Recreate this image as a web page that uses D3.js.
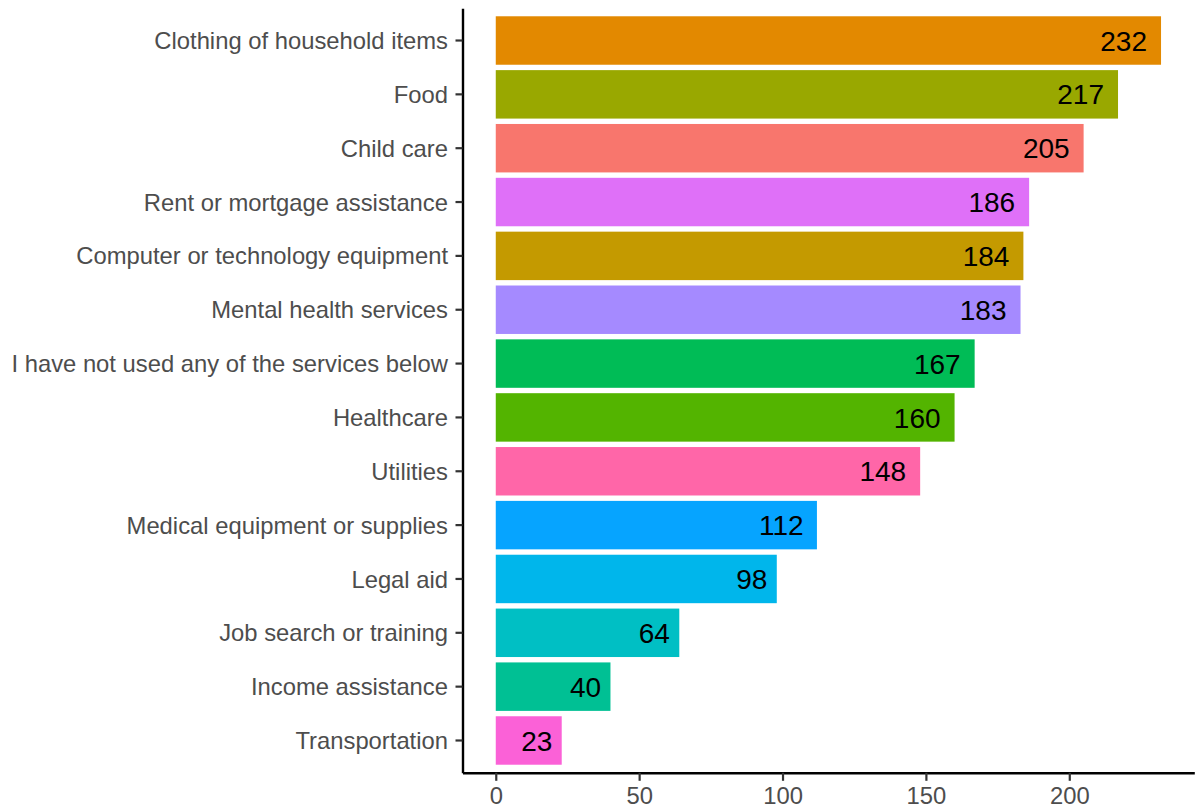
<!DOCTYPE html>
<html>
<head>
<meta charset="utf-8">
<script src="https://cdn.jsdelivr.net/npm/d3@7"></script>
<style>
  body { margin: 0; background: #fff; }
  svg { display: block; font-family: "Liberation Sans", Arial, sans-serif; }
</style>
</head>
<body>
<div id="chart"></div>
<script>
var services = ["Clothing of household items", "Food", "Child care", "Rent or mortgage assistance",
    "Computer or technology equipment", "Mental health services", "I have not used any of the services below",
    "Healthcare", "Utilities", "Medical equipment or supplies", "Legal aid", "Job search or training",
    "Income assistance", "Transportation"];
var counts = [232, 217, 205, 186, 184, 183, 167, 160, 148, 112, 98, 64, 40, 23];
var barColors = ["#E38900", "#99A800", "#F8766D", "#DF70F8", "#C49A00", "#A58AFF", "#00BC56",
    "#53B400", "#FF66A8", "#06A4FF", "#00B6EB", "#00BFC4", "#00C094", "#FB61D7"];
var xTicks = [0, 50, 100, 150, 200];

var width = 1198, height = 808;
var panel = { left: 462.5, right: 1194.3, top: 8.2, bottom: 772.8 };

var svg = d3.select("#chart")
    .append("svg")
    .attr("width", width)
    .attr("height", height);

var maxVal = d3.max(counts);
var pad = maxVal * 0.05;
var x = d3.scaleLinear()
    .domain([-pad, maxVal + pad])
    .range([panel.left, panel.right]);

var y = d3.scaleBand()
    .domain(services)
    .range([panel.top, panel.bottom])
    .paddingInner(0.1)
    .paddingOuter(0.15);

var rows = services.map(function(s, i) {
    return { name: s, value: counts[i], color: barColors[i] };
});

svg.selectAll(".bar")
    .data(rows)
    .enter()
    .append("rect")
    .attr("class", "bar")
    .attr("x", x(0))
    .attr("y", function(d) { return y(d.name); })
    .attr("width", function(d) { return x(d.value) - x(0); })
    .attr("height", y.bandwidth())
    .attr("fill", function(d) { return d.color; });

// value labels, right aligned inside the bar (hjust ~ 1.3)
svg.selectAll(".val")
    .data(rows)
    .enter()
    .append("text")
    .attr("class", "val")
    .attr("y", function(d) { return y(d.name) + y.bandwidth() / 2; })
    .attr("dy", "0.36em")
    .attr("text-anchor", "end")
    .attr("font-size", "28px")
    .attr("fill", "#000")
    .text(function(d) { return d.value; })
    .attr("x", function(d) { return x(d.value) - 0.3 * this.getComputedTextLength(); });

// axes
var xAxis = svg.append("g")
    .attr("transform", "translate(0," + panel.bottom + ")")
    .call(d3.axisBottom(x).tickValues(xTicks).tickSize(8).tickSizeOuter(0).tickPadding(6));

var yAxis = svg.append("g")
    .attr("transform", "translate(" + panel.left + ",0)")
    .call(d3.axisLeft(y).tickSize(7).tickSizeOuter(0).tickPadding(7.5));

[xAxis, yAxis].forEach(function(g) {
    g.select(".domain").attr("stroke", "#000").attr("stroke-width", 2.4);
    g.selectAll(".tick line").attr("stroke", "#333").attr("stroke-width", 2.2);
    g.selectAll(".tick text")
        .attr("fill", "#4D4D4D")
        .attr("font-size", "23.8px")
        .attr("font-family", "Liberation Sans, Arial, sans-serif");
});
yAxis.selectAll(".tick text").attr("dy", "0.36em");
</script>
</body>
</html>
